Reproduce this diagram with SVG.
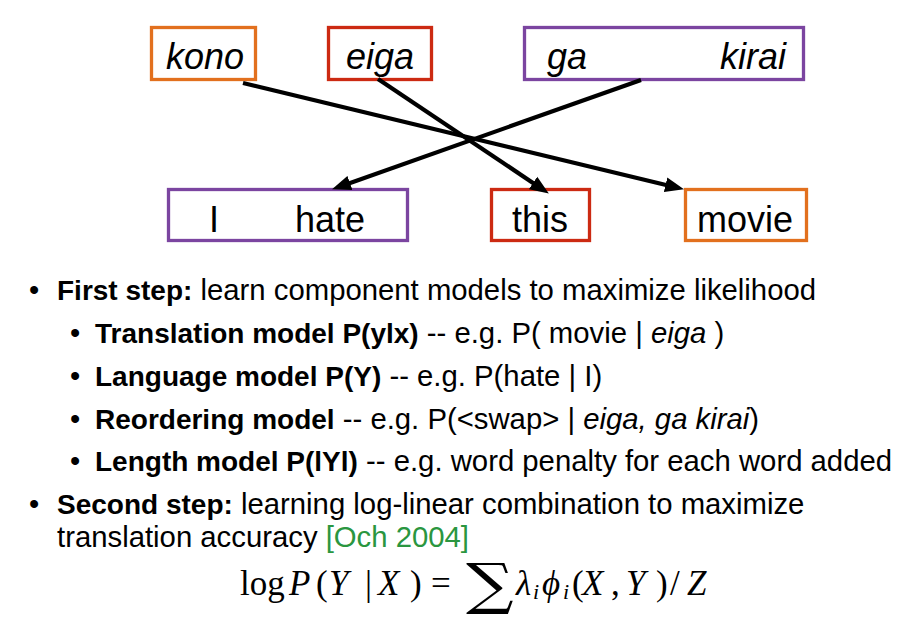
<svg xmlns="http://www.w3.org/2000/svg" width="917" height="617" viewBox="0 0 917 617">
<style>
.box{fill:#fff;stroke-width:3.3}
.orange{stroke:#E2701E}
.red{stroke:#CC2A12}
.purple{stroke:#7B45A0}
.w{font-family:"Liberation Sans",Arial,sans-serif;font-size:36px;fill:#000}
.it{font-style:italic}
.conn{stroke:#000;stroke-width:4.2;fill:none}
.t{font-family:"Liberation Sans",Arial,sans-serif;font-size:29.3px;fill:#000}
.b{font-weight:bold;font-size:28px}
.m{font-family:"Liberation Serif","Times New Roman",serif;font-size:35px;fill:#000}
.mi{font-style:italic}
.sub{font-family:"Liberation Serif","Times New Roman",serif;font-size:22px;font-style:italic;fill:#000}
</style>
<defs>
<marker id="ah" markerUnits="userSpaceOnUse" markerWidth="20" markerHeight="16" refX="8" refY="8" orient="auto">
<path d="M0,0.5 L19,8 L0,15.5 z" fill="#000"/>
</marker>
</defs>
<rect width="917" height="617" fill="#fff"/>
<g id="node-kono"><rect class="box orange" x="151.5" y="27.5" width="104" height="52"/><text class="w it" x="166" y="69">kono</text></g>
<g id="node-eiga"><rect class="box red" x="328.5" y="27.5" width="103" height="52"/><text class="w it" x="346" y="69">eiga</text></g>
<g id="node-gakirai"><rect class="box purple" x="524.5" y="27.5" width="279" height="52"/><text class="w it" x="547" y="69">ga</text><text class="w it" x="720" y="69">kirai</text></g>
<g id="node-ihate"><rect class="box purple" x="168.5" y="189.5" width="239" height="51"/><text class="w" x="209" y="232">I</text><text class="w" x="295" y="232">hate</text></g>
<g id="node-this"><rect class="box red" x="491.5" y="189.5" width="98" height="51"/><text class="w" x="512" y="232">this</text></g>
<g id="node-movie"><rect class="box orange" x="685.5" y="189.5" width="121" height="51"/><text class="w" x="697" y="232">movie</text></g>
<g id="connectors">
<line class="conn" x1="243" y1="83" x2="673.3" y2="186.7" marker-end="url(#ah)"/>
<line class="conn" x1="378" y1="79" x2="539.7" y2="187.4" marker-end="url(#ah)"/>
<line class="conn" x1="641" y1="80" x2="342.4" y2="185.7" marker-end="url(#ah)"/>
</g>
<g id="bullets">
<text class="t" x="29" y="300">•</text>
<text class="t" x="57" y="300"><tspan class="b">First step:</tspan> learn component models to maximize likelihood</text>
<text class="t" x="70" y="343">•</text>
<text class="t" x="95" y="343"><tspan class="b">Translation model P(ylx)</tspan> -- e.g. P( movie | <tspan font-style="italic">eiga</tspan> )</text>
<text class="t" x="70" y="386">•</text>
<text class="t" x="95" y="386"><tspan class="b">Language model P(Y)</tspan> -- e.g. P(hate | I)</text>
<text class="t" x="70" y="429">•</text>
<text class="t" x="95" y="429"><tspan class="b">Reordering model</tspan> -- e.g. P(&lt;swap&gt; | <tspan font-style="italic">eiga, ga kirai</tspan>)</text>
<text class="t" x="70" y="471">•</text>
<text class="t" x="95" y="471"><tspan class="b">Length model P(lYl)</tspan> -- e.g. word penalty for each word added</text>
<text class="t" x="29" y="514">•</text>
<text class="t" x="57" y="514"><tspan class="b">Second step:</tspan> learning log-linear combination to maximize</text>
<text class="t" x="57" y="547">translation accuracy <tspan fill="#2A9640">[Och 2004]</tspan></text>
</g>
<g id="formula">
<text class="m" y="595"><tspan x="240">log</tspan><tspan x="289" class="mi">P</tspan><tspan x="316">(</tspan><tspan x="329" class="mi">Y</tspan><tspan x="365">|</tspan><tspan x="378" class="mi">X</tspan><tspan x="410">)</tspan><tspan x="431">=</tspan></text>
<text transform="translate(466,602.5) scale(1.45,1.22)" font-family="'DejaVu Serif',serif" font-size="46px" fill="#000">∑</text>
<text class="m mi" x="516" y="595">λ</text>
<text class="sub" x="533" y="599">i</text>
<text class="m mi" x="542" y="595">ϕ</text>
<text class="sub" x="563" y="599">i</text>
<text class="m" y="595"><tspan x="572">(</tspan><tspan x="582" class="mi">X</tspan><tspan x="611">,</tspan><tspan x="626" class="mi">Y</tspan><tspan x="656">)</tspan><tspan x="670">/</tspan><tspan x="687" class="mi">Z</tspan></text>
</g>
</svg>
